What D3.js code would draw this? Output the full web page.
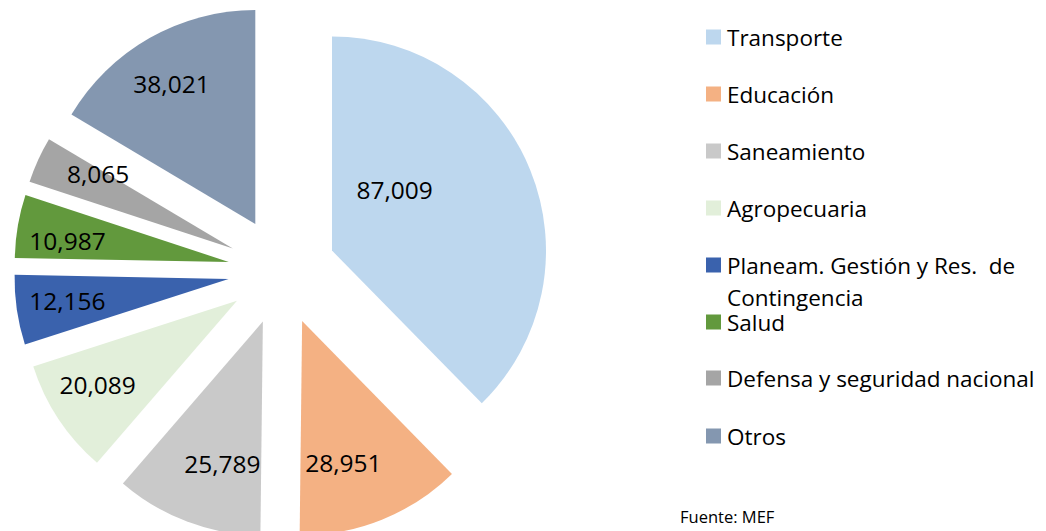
<!DOCTYPE html>
<html><head><meta charset="utf-8">
<script src="https://cdn.jsdelivr.net/npm/d3@7"></script>
<style>body{margin:0;background:#fff}svg{display:block}text{font-family:"Open Sans",sans-serif;fill:#000}</style>
</head><body>
<svg id="c" width="1046" height="531"></svg>
<script>
const categories = ["Transporte","Educación","Saneamiento","Agropecuaria","Planeam. Gestión y Res.  de Contingencia","Salud","Defensa y seguridad nacional","Otros"];
const values = [87009,28951,25789,20089,12156,10987,8065,38021];
const valueLabels = ["87,009","28,951","25,789","20,089","12,156","10,987","8,065","38,021"];
const colors = ["#BDD7EE","#F4B183","#C9C9C9","#E2EFDA","#3A62AD","#62993D","#A5A5A5","#8497B0"];
// label placement: [fraction along slice span, fraction of radius]
const labelPlace = [[0.336,0.41],[0.625,0.69],[0.38,0.69],[0.58,0.76],[0.545,0.76],[0.37,0.76],[0.86,0.72],[0.48,0.765]];

const svg = d3.select("#c");
const cx = 282, cy = 271, R = 214, explode = 54;
const pie = d3.pie().sort(null).value(d => d)(values);
const arc = d3.arc().innerRadius(0).outerRadius(R);
const g = svg.append("g").attr("transform",`translate(${cx},${cy})`);
pie.forEach((p,i) => {
  const mid = (p.startAngle + p.endAngle)/2;
  const ox = explode*Math.sin(mid), oy = -explode*Math.cos(mid);
  const sg = g.append("g").attr("transform",`translate(${ox},${oy})`);
  sg.append("path").attr("d", arc(p)).attr("fill", colors[i]);
  const a = p.startAngle + (p.endAngle - p.startAngle)*labelPlace[i][0];
  const rr = R*labelPlace[i][1];
  sg.append("text").attr("x", rr*Math.sin(a)).attr("y", -rr*Math.cos(a))
    .attr("text-anchor","middle").attr("dominant-baseline","central")
    .style("font-size","24.5px").text(valueLabels[i]);
});

// legend
const legendY = [37,94,151,208,265,322,378,436];
const lg = svg.append("g");
categories.forEach((c,i) => {
  const y = legendY[i];
  lg.append("rect").attr("x",706).attr("y",y-7.5).attr("width",15).attr("height",15).attr("fill",colors[i]);
  if (i === 4) {
    const t = lg.append("text").attr("x",727).attr("y",y).attr("dominant-baseline","central")
      .attr("xml:space","preserve").style("font-size","22.5px");
    t.append("tspan").attr("x",727).text("Planeam. Gestión y Res.  de");
    t.append("tspan").attr("x",727).attr("dy",32).text("Contingencia");
  } else {
    lg.append("text").attr("x",727).attr("y",y).attr("dominant-baseline","central").style("font-size","22.5px").text(c);
  }
});
svg.append("text").attr("x",680).attr("y",516).attr("dominant-baseline","central").style("font-size","16.5px").text("Fuente: MEF");
</script>
</body></html>
